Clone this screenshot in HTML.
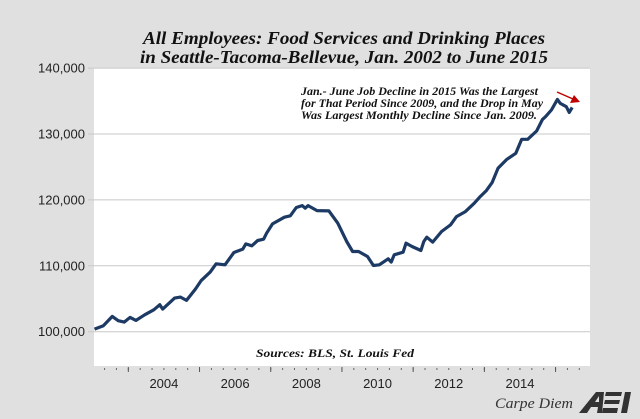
<!DOCTYPE html>
<html><head><meta charset="utf-8"><style>
body{margin:0;background:#e0e0e0}
svg{display:block}
</style></head><body>
<svg width="640" height="419" viewBox="0 0 640 419" xmlns="http://www.w3.org/2000/svg">
<rect x="0" y="0" width="640" height="419" fill="#e0e0e0"/>
<rect x="94" y="68" width="496" height="298" fill="#ffffff"/>
<g id="grid"></g>
<g id="axes"></g>
<path id="line" fill="none" stroke="#1d3a64" stroke-width="3.2" stroke-linejoin="round"/>
<text x="344" y="44" text-anchor="middle" textLength="402" lengthAdjust="spacingAndGlyphs" font-family="Liberation Serif, serif" font-weight="bold" font-style="italic" font-size="18" fill="#111">All Employees: Food Services and Drinking Places</text>
<text x="344" y="63" text-anchor="middle" textLength="408" lengthAdjust="spacingAndGlyphs" font-family="Liberation Serif, serif" font-weight="bold" font-style="italic" font-size="18" fill="#111">in Seattle-Tacoma-Bellevue, Jan. 2002 to June 2015</text>
<g font-family="Liberation Serif, serif" font-weight="bold" font-style="italic" font-size="11.5" fill="#111">
<text x="301" y="95" textLength="237" lengthAdjust="spacingAndGlyphs">Jan.- June Job Decline in 2015 Was the Largest</text>
<text x="301" y="107" textLength="242" lengthAdjust="spacingAndGlyphs">for That Period Since 2009, and the Drop in May</text>
<text x="301" y="119" textLength="236" lengthAdjust="spacingAndGlyphs">Was Largest Monthly Decline Since Jan. 2009.</text>
</g>
<line x1="557" y1="92" x2="573" y2="99" stroke="#c00000" stroke-width="1.5"/>
<polygon points="580,102 570,103 574,95" fill="#c00000"/>
<text x="335" y="357" text-anchor="middle" textLength="158" lengthAdjust="spacingAndGlyphs" font-family="Liberation Serif, serif" font-weight="bold" font-style="italic" font-size="12" fill="#111">Sources: BLS, St. Louis Fed</text>
<text x="495" y="408" textLength="78" lengthAdjust="spacingAndGlyphs" font-family="Liberation Serif, serif" font-style="italic" font-size="15" fill="#333">Carpe Diem</text>
<g>
<polygon points="579,413 596,392 604,392 602,413 597,413 598,407 591,407 587,413" fill="#333"/>
<polygon points="595,402 599,396 599,402" fill="#e0e0e0"/>
<polygon points="606,392 622,392 621,396 605,396" fill="#333"/>
<polygon points="605,400 620,400 619,404 604,404" fill="#333"/>
<polygon points="603,408 618,408 617,413 602,413" fill="#333"/>
<polygon points="625,392 631,392 627,413 621,413" fill="#333"/>
</g>
</svg>
<script>
// months since Jan 2002
const months=[0,3,6,8,10,12,14,17,20,22,23,27,29,31,34,36,39,41,44,47,50,51,53,55,57,58,60,64,66,68,70,71,72,75,79,82,85,87,89,92,94,96,99,100,101,104,105,107,110,111,112,114,117,120,122,125,128,130,132,134,136,139,142,144,146,149,151,152,154,156,157,159,160,161];
const values=[100.40,100.91,102.32,101.67,101.46,102.17,101.72,102.58,103.33,104.09,103.43,105.10,105.25,104.75,106.46,107.78,109.04,110.30,110.15,112.02,112.53,113.33,113.03,113.84,114.04,114.95,116.36,117.37,117.58,118.84,119.14,118.74,119.14,118.38,118.33,116.47,113.69,112.17,112.17,111.41,110.05,110.15,111.06,110.56,111.67,112.07,113.43,112.93,112.32,113.69,114.34,113.59,115.20,116.21,117.47,118.23,119.50,120.50,121.36,122.63,124.80,126.16,127.07,129.19,129.19,130.45,132.22,132.62,133.64,135.25,134.65,134.14,133.28,134.04];
const yTicks=[100000,110000,120000,130000,140000];
const yTickLabels=["100,000","110,000","120,000","130,000","140,000"];
const xLabelYears=[2004,2006,2008,2010,2012,2014];
const xMajorYears=[2003,2005,2007,2009,2011,2013,2015];

const NS="http://www.w3.org/2000/svg";
function xScale(m){return 94.5+m*2.967;}
function yScale(v){return 331.7-(v-100)*6.59;}
function yearToM(y){return (y-2002)*12-0.6;}

const grid=document.getElementById('grid');
const axes=document.getElementById('axes');
yTicks.forEach((t,i)=>{
  const y=yScale(t/1000);
  const l=document.createElementNS(NS,'line');
  l.setAttribute('x1',88);l.setAttribute('x2',590);l.setAttribute('y1',y);l.setAttribute('y2',y);
  l.setAttribute('stroke','#c8c8c8');l.setAttribute('stroke-width','1');
  
  
  grid.appendChild(l);
  const tx=document.createElementNS(NS,'text');
  tx.setAttribute('x',85);tx.setAttribute('y',y+4.5);tx.setAttribute('text-anchor','end');
  tx.setAttribute('font-family','Liberation Sans, Arial, sans-serif');tx.setAttribute('font-size','13');tx.setAttribute('fill','#222');
  tx.textContent=yTickLabels[i];
  
  
  axes.appendChild(tx);
});
for(let m=-0.6;m<=172;m+=4){
  const x=xScale(m);
  if(x<94||x>590)continue;
  const l=document.createElementNS(NS,'line');
  l.setAttribute('x1',x);l.setAttribute('x2',x);l.setAttribute('y1',368);l.setAttribute('y2',370);
  l.setAttribute('stroke','#666');l.setAttribute('stroke-width','1');
  
  
  axes.appendChild(l);
}
xMajorYears.forEach(yr=>{
  const x=xScale(yearToM(yr));
  const l=document.createElementNS(NS,'line');
  l.setAttribute('x1',x);l.setAttribute('x2',x);l.setAttribute('y1',367);l.setAttribute('y2',372);
  l.setAttribute('stroke','#555');l.setAttribute('stroke-width','1');
  
  
  axes.appendChild(l);
});
xLabelYears.forEach(yr=>{
  const x=xScale(yearToM(yr));
  const tx=document.createElementNS(NS,'text');
  tx.setAttribute('x',x);tx.setAttribute('y',388);tx.setAttribute('text-anchor','middle');
  tx.setAttribute('font-family','Liberation Sans, Arial, sans-serif');tx.setAttribute('font-size','13');tx.setAttribute('fill','#222');
  tx.textContent=yr;
  
  
  axes.appendChild(tx);
});
let d='';
months.forEach((m,i)=>{d+=(i?'L':'M')+xScale(m).toFixed(1)+','+yScale(values[i]).toFixed(1);});
document.getElementById('line').setAttribute('d',d);
</script>
</body></html>
